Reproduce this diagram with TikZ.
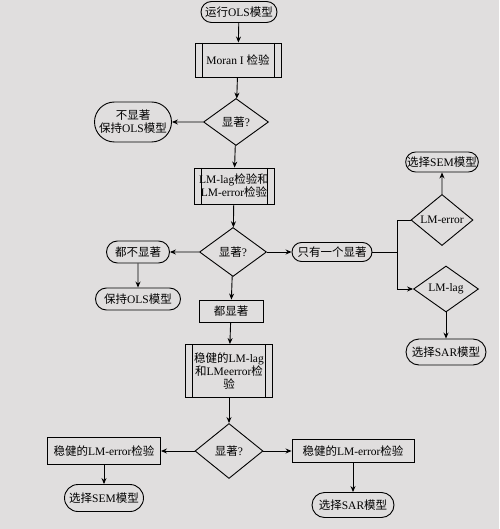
\documentclass[tikz,border=0pt]{standalone}
\usepackage{fontspec}
\setmainfont{Liberation Serif}
\newfontfamily\zhfont{Noto Sans CJK SC}
\newcommand{\zh}[1]{{\zhfont #1}}
\usetikzlibrary{shapes.geometric,shapes.misc,arrows.meta}
\definecolor{paper}{RGB}{224,222,222}

\tikzset{
    every node/.style = {align=center, font=\fontsize{11.5}{13}\selectfont},
    term/.style = {draw, rounded rectangle, inner sep=0pt, line width=0.9pt},
    proc/.style = {draw, rectangle, inner sep=0pt, line width=0.9pt},
    subproc/.style = {proc, path picture={
        \draw[line width=0.9pt]
            ([xshift=7pt]path picture bounding box.north west) -- ([xshift=7pt]path picture bounding box.south west)
            ([xshift=-7pt]path picture bounding box.north east) -- ([xshift=-7pt]path picture bounding box.south east);}},
    decision/.style = {draw, diamond, inner sep=0pt, line width=0.9pt},
    flow/.style = {-{Stealth[length=6pt,width=5pt]}, line width=0.9pt}
}

\begin{document}
\begin{tikzpicture}[x=1pt,y=-1pt]
    \fill[paper] (0,0) rectangle (499,529);
    \useasboundingbox (0,0) rectangle (499,529);

    \node[term, minimum width=76, minimum height=21] (run) at (239,12) {\zh{运行}OLS\zh{模型}};
    \node[subproc, minimum width=86, minimum height=34] (moran) at (238,60) {Moran I \zh{检验}};
    \node[decision, minimum width=65, minimum height=47] (d1) at (236,122) {\zh{显著}?};
    \node[term, minimum width=77, minimum height=40] (ns1) at (133,122) {\zh{不显著}\\\zh{保持}OLS\zh{模型}};
    \node[subproc, minimum width=80, minimum height=36] (lmtest) at (234,186) {LM-lag\zh{检验和}\\LM-error\zh{检验}};
    \node[decision, minimum width=67, minimum height=49] (d2) at (233,252) {\zh{显著}?};
    \node[term, minimum width=63, minimum height=22] (nosig) at (138,252) {\zh{都不显著}};
    \node[term, minimum width=85, minimum height=22] (keep) at (138,299) {\zh{保持}OLS\zh{模型}};
    \node[term, minimum width=80, minimum height=19] (one) at (332,252) {\zh{只有一个显著}};
    \coordinate (split) at (397,252);
    \node[decision, minimum width=62, minimum height=48] (lmerr) at (442,220) {LM-error};
    \node[term, minimum width=72, minimum height=20] (semtop) at (442,162) {\zh{选择}SEM\zh{模型}};
    \node[decision, minimum width=65, minimum height=46] (lmlag) at (446,289) {LM-lag};
    \node[term, minimum width=80, minimum height=26] (sar) at (446,352) {\zh{选择}SAR\zh{模型}};
    \node[proc, minimum width=64, minimum height=22] (allsig) at (231,311) {\zh{都显著}};
    \node[subproc, minimum width=87, minimum height=53] (robust) at (229,371) {\zh{稳健的}LM-lag\\\zh{和}LMeerror\zh{检}\\\zh{验}};
    \node[decision, minimum width=68, minimum height=55] (d3) at (229,451) {\zh{显著}?};
    \node[proc, minimum width=113, minimum height=27] (rerrl) at (104,451) {\zh{稳健的}LM-error\zh{检验}};
    \node[term, minimum width=79, minimum height=27] (seml) at (104,498) {\zh{选择}SEM\zh{模型}};
    \node[proc, minimum width=122, minimum height=23] (rerrr) at (353,451) {\zh{稳健的}LM-error\zh{检验}};
    \node[term, minimum width=82, minimum height=25] (selr) at (353,505) {\zh{选择}SAR\zh{模型}};

    \draw[flow] (run) -- (moran);
    \draw[flow] (moran) -- (d1);
    \draw[flow] (d1) -- (ns1);
    \draw[flow] (d1) -- (lmtest);
    \draw[flow] (lmtest) -- (d2);
    \draw[flow] (d2) -- (nosig);
    \draw[flow] (nosig) -- (keep);
    \draw[flow] (d2) -- (one);
    \draw[line width=0.9pt] (one.east) -- (split) |- (lmerr.west);
    \draw[flow] (split) |- (lmlag.west);
    \draw[flow] (lmerr) -- (semtop);
    \draw[flow] (lmlag) -- (sar);
    \draw[flow] (d2) -- (allsig);
    \draw[flow] (allsig) -- (robust);
    \draw[flow] (robust) -- (d3);
    \draw[flow] (d3) -- (rerrl);
    \draw[flow] (rerrl) -- (seml);
    \draw[flow] (d3) -- (rerrr);
    \draw[flow] (rerrr) -- (selr);
\end{tikzpicture}
\end{document}
